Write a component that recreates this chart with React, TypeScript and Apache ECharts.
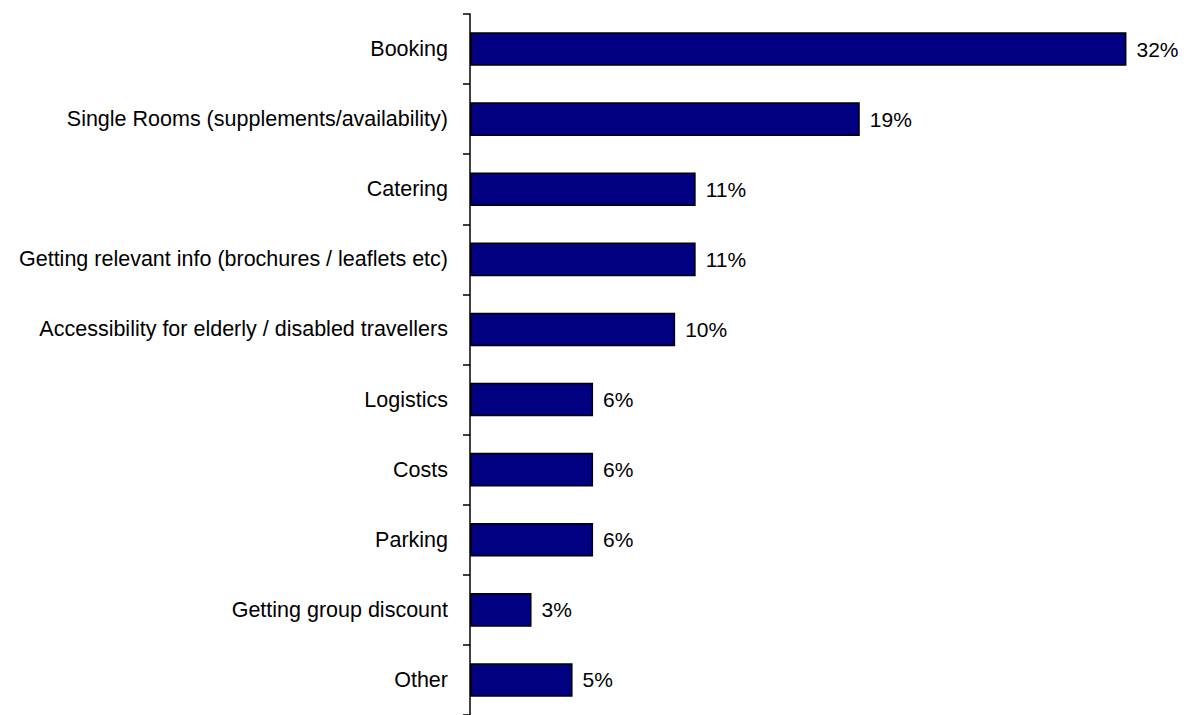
import React, { useEffect, useRef } from "react";
import * as echarts from "echarts";

const categories = [
  "Booking",
  "Single Rooms (supplements/availability)",
  "Catering",
  "Getting relevant info (brochures / leaflets etc)",
  "Accessibility for elderly / disabled travellers",
  "Logistics",
  "Costs",
  "Parking",
  "Getting group discount",
  "Other",
];
const values = [32, 19, 11, 11, 10, 6, 6, 6, 3, 5];

export default function App() {
  const ref = useRef<HTMLDivElement>(null);
  useEffect(() => {
    if (!ref.current) return;
    const chart = echarts.init(ref.current, undefined, { renderer: "svg" });
    const font = "Liberation Sans";
    chart.setOption({
      animation: false,
      grid: { left: 462, top: 6, width: 719, height: 707, containLabel: false },
      xAxis: {
        type: "value",
        min: 0,
        max: 35,
        show: false,
      },
      yAxis: {
        type: "category",
        data: categories,
        inverse: true,
        axisLine: { show: true, lineStyle: { color: "#000", width: 1.5 } },
        axisTick: { show: true, length: 7, lineStyle: { color: "#000", width: 1.5 } },
        axisLabel: {
          color: "#000",
          fontFamily: font,
          fontSize: 21.5,
          margin: 22,
        },
        splitLine: { show: false },
      },
      series: [
        {
          type: "bar",
          data: values,
          barWidth: "48%",
          itemStyle: { color: "#000080", borderColor: "#000", borderWidth: 1.5 },
          label: {
            show: true,
            position: "right",
            distance: 10,
            formatter: "{c}%",
            color: "#000",
            fontFamily: font,
            fontSize: 21,
          },
        },
      ],
    });
    return () => chart.dispose();
  }, []);
  return <div ref={ref} style={{ width: 1180, height: 707 }} />;
}
